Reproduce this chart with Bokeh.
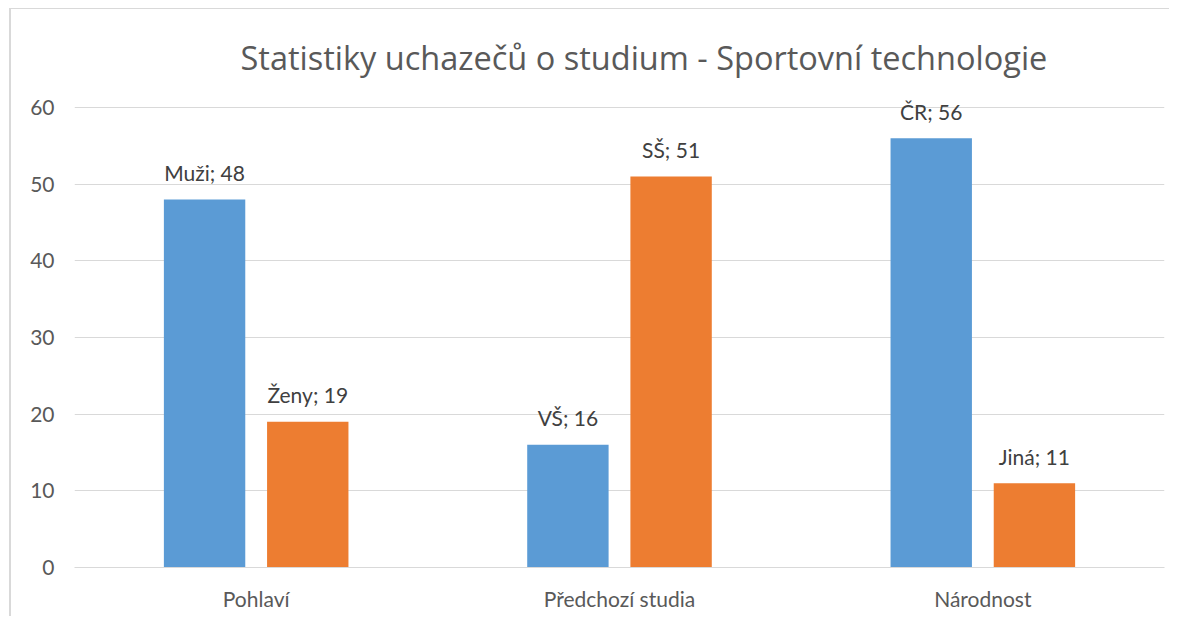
from bokeh.plotting import figure
from bokeh.models import ColumnDataSource, Range1d, FixedTicker, Title
from bokeh.transform import dodge
from bokeh.core.properties import value
from bokeh.embed import file_html
from bokeh.resources import INLINE

categories = ["Pohlaví", "Předchozí studia", "Národnost"]
first_names = ["Muži", "VŠ", "ČR"]
first_values = [48, 16, 56]
second_names = ["Ženy", "SŠ", "Jiná"]
second_values = [19, 51, 11]
y_ticks = [0, 10, 20, 30, 40, 50, 60]
title_text = "Statistiky uchazečů o studium  - Sportovní technologie"

BLUE = "#5B9BD5"
ORANGE = "#ED7D31"
FONT = "Lato"
TITLE_FONT = "Open Sans"

src = ColumnDataSource(dict(
    cat=categories,
    v1=first_values,
    v2=second_values,
    l1=[f"{n}; {v}" for n, v in zip(first_names, first_values)],
    l2=[f"{n}; {v}" for n, v in zip(second_names, second_values)],
))

# y range extends a little above the top tick so that data labels are not clipped
p = figure(x_range=categories, y_range=Range1d(0, 63.26),
           width=1160, height=608, output_backend="svg", toolbar_location=None,
           min_border_left=63, min_border_right=7, min_border_top=73, min_border_bottom=50)
p.styles = {"margin-left": "9px", "margin-top": "8px",
            "border-left": "2px solid #d9d9d9", "border-top": "1px solid #d9d9d9"}

p.title = Title(text=title_text, align="left", offset=166, text_font=TITLE_FONT,
                text_font_size="32.5px", text_font_style="normal", text_color="#595959",
                standoff=5)

off = 0.142
w = 0.224
p.vbar(x=dodge("cat", -off, range=p.x_range), top="v1", width=w, source=src,
       fill_color=BLUE, line_color=None)
p.vbar(x=dodge("cat", off, range=p.x_range), top="v2", width=w, source=src,
       fill_color=ORANGE, line_color=None)
for xo, ycol, tcol in ((-off, "v1", "l1"), (off, "v2", "l2")):
    p.text(x=dodge("cat", xo, range=p.x_range), y=ycol, text=tcol, source=src,
           text_align="center", text_baseline="alphabetic", y_offset=-27,
           text_font=value(FONT), text_font_size="21px", text_color="#404040")

p.outline_line_color = None
p.xgrid.grid_line_color = None
p.ygrid.grid_line_color = "#d9d9d9"
p.ygrid.grid_line_width = 1
p.yaxis.ticker = FixedTicker(ticks=y_ticks)
p.yaxis.axis_line_color = None
p.yaxis.major_tick_line_color = None
p.yaxis.minor_tick_line_color = None
p.yaxis.major_label_standoff = 14
p.xaxis.axis_line_color = "#d9d9d9"
p.xaxis.axis_line_width = 1
p.xaxis.major_tick_line_color = None
p.xaxis.minor_tick_line_color = None
p.xaxis.major_label_standoff = 12
for ax in (p.xaxis, p.yaxis):
    ax.major_label_text_font = FONT
    ax.major_label_text_font_size = "21px"
    ax.major_label_text_color = "#595959"

open("out.html", "w").write(file_html(p, INLINE))
